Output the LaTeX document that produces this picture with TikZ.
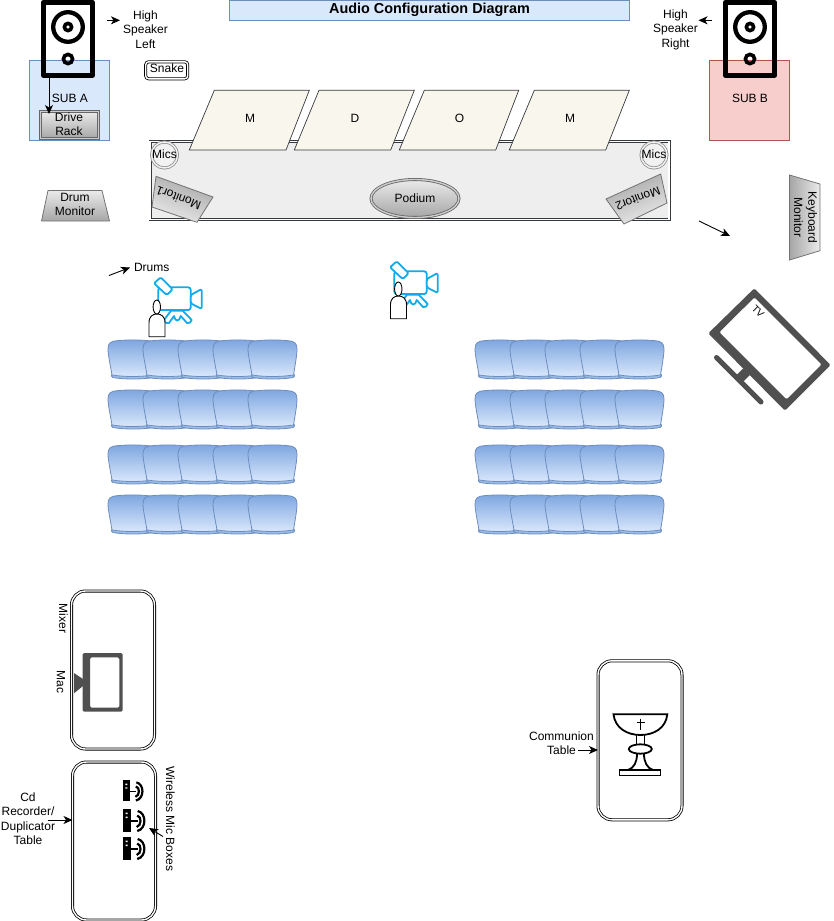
\documentclass[tikz,border=0pt]{standalone}
\usepackage{fontspec}
\setmainfont{Liberation Sans}
\usetikzlibrary{shapes.geometric,arrows.meta}
\definecolor{bluefill}{HTML}{DAE8FC}
\definecolor{bluedraw}{HTML}{6C8EBF}
\definecolor{redfill}{HTML}{F8CECC}
\definecolor{reddraw}{HTML}{B85450}
\definecolor{stagefill}{HTML}{EEEEEE}
\definecolor{stagedraw}{HTML}{36393D}
\definecolor{panelfill}{HTML}{F9F7ED}
\definecolor{cam}{HTML}{10ABEB}
\definecolor{icon}{HTML}{505050}
\definecolor{seatA}{HTML}{7EA6E0}
\tikzset{
  x=1pt,y=-1pt,
  every node/.style={font=\fontsize{12}{14.4}\selectfont,inner sep=0pt,outer sep=0pt,align=center},
  plain/.style={line width=.9pt},
  conn/.style={draw=black,line width=.9pt,-{Stealth[length=9pt,width=8pt,inset=2.5pt]}},
  bluebox/.style={draw=bluedraw,fill=bluefill,line width=.9pt,rectangle},
  redbox/.style={draw=reddraw,fill=redfill,line width=.9pt,rectangle},
  doubleline/.style={draw=black,double=white,line width=.8pt,double distance=1.4pt},
  table/.style={doubleline,rectangle,rounded corners=14pt,fill=white},
  panel/.style={draw=stagedraw,fill=panelfill,line width=.7pt},
  trap/.style={draw=black!55,line width=.8pt},
  camline/.style={draw=cam,line width=1.8pt,line join=round,fill=white},
  speakerline/.style={draw=black,line width=4.5pt,line join=round},
  seatback/.style={draw=bluedraw,line width=.8pt,top color=seatA,bottom color=bluefill},
  seatlip/.style={draw=bluedraw,line width=.8pt,fill=seatA!70!bluefill},
}
\begin{document}
\begin{tikzpicture}
\useasboundingbox (0,0) rectangle (833,921);
% title
\node[bluebox,minimum width=400pt,minimum height=20.5pt] (title) at (429.5,10.2) {\fontsize{14.4}{16}\selectfont\bfseries\raisebox{-.5pt}{Audio Configuration Diagram}};
% subs
\node[bluebox,minimum width=80pt,minimum height=80pt] (subA) at (69.7,100.3) {};
\node (subAt) at (70,98) {SUB A};
\node[redbox,minimum width=80pt,minimum height=80pt] (subB) at (749.5,100.3) {};
\node (subBt) at (750,98) {SUB B};
% speakers
\foreach \sx/\nm in {68/spkL,750/spkR}{
  \begin{scope}[shift={(\sx,0)}]
    \draw[speakerline] (-24.7,2.3) rectangle (24.7,75.3);
    \draw[draw=black,line width=4.3pt] (0,27) circle (14.8);
    \draw[draw=black,line width=3.6pt] (0,27) circle (3.6);
    \draw[draw=black,line width=3.6pt] (0,59) circle (4.6);
  \end{scope}
}
\coordinate (spkLout) at (49,78);
% stage
\node[draw=stagedraw,fill=stagefill,double=white,line width=.8pt,double distance=1.4pt,rectangle,minimum width=519pt,minimum height=78pt] (stage) at (409.5,180.5) {};
\path[panel] (189.3,150) -- (214.3,90.3) -- (309.3,90.3) -- (286,150) -- cycle;
\node (p1) at (250,118.5) {M};
\path[panel] (294.3,150) -- (319,90.3) -- (414.3,90.3) -- (390.7,150) -- cycle;
\node (p2) at (355,118.5) {D};
\path[panel] (399.3,150) -- (424.3,90.3) -- (518.7,90.3) -- (495.7,150) -- cycle;
\node (p3) at (459.5,118.5) {O};
\path[panel] (509.3,150) -- (534.3,90.3) -- (629.3,90.3) -- (605.7,150) -- cycle;
\node (p4) at (570,118.5) {M};
\node[circle,draw=black!45,double=white!95!black,fill=white!95!black,line width=.8pt,double distance=1.4pt,minimum size=26pt] (micL) at (164.5,155) {};
\node (micLt) at (164.5,154) {Mics};
\node[circle,draw=black!45,double=white!95!black,fill=white!95!black,line width=.8pt,double distance=1.4pt,minimum size=26pt] (micR) at (654,155) {};
\node (micRt) at (654,154) {Mics};
% monitors
\shade[trap,top color=white!92!black,bottom color=black!35,shading angle=159] (156,176.3) -- (213,197) -- (197,222.3) -- (152,207) -- cycle;
\node[rotate=159] (mon1) at (178.5,198) {Monitor1};
\shade[trap,top color=white!92!black,bottom color=black!35,shading angle=201] (660.7,174) -- (667,203) -- (624,224) -- (606,199) -- cycle;
\node[rotate=201] (mon2) at (638,199) {Monitor2};
\node[ellipse,draw=black!60,double=white!80!black,line width=.8pt,double distance=1.4pt,top color=white!92!black,bottom color=black!35,minimum width=88pt,minimum height=38pt] (podium) at (415,198.5) {};
\node (podiumt) at (415,198.5) {Podium};
% drive rack
\node[draw=black!60,double=white!80!black,line width=.8pt,double distance=1.4pt,top color=white!92!black,bottom color=black!35,rectangle,minimum width=58pt,minimum height=27pt] (rack) at (69.5,125) {};
\node (rackt) at (69,124.5) {Drive\\Rack};
\draw[conn] (spkLout) -- (49,114);
% snake
\node[doubleline,rectangle,rounded corners=3pt,minimum width=42pt,minimum height=17pt] (snake) at (166.7,70.3) {};
\node (snaket) at (167,68.5) {Snake};
% drum monitor
\shade[trap,top color=white!92!black,bottom color=black!35] (48,190.5) -- (102,190.5) -- (109.5,221) -- (41.5,221) -- cycle;
\node (drum) at (75,204.5) {Drum\\Monitor};
% keyboard monitor
\shade[trap,top color=white!92!black,bottom color=black!35,shading angle=-90] (789.5,175) -- (820,184) -- (820,250.7) -- (789.5,260) -- cycle;
\node[rotate=-90] (kbd) at (805.5,217.5) {Keyboard\\Monitor};
\coordinate (kbdA) at (699,221);
\coordinate (kbdB) at (730,236);
\draw[conn] (kbdA) -- (kbdB);
% speaker labels
\node (hsl) at (145.5,29.5) {High\\Speaker\\Left};
\node (hsr) at (675.5,29.5) {High\\Speaker\\Right};
\coordinate (hslA) at (107,20.3);
\draw[conn] (hslA) -- (120,20.3);
\coordinate (hsrA) at (711.5,20.3);
\draw[conn] (hsrA) -- (698.5,20.3);
% drums
\node[anchor=west] (drums) at (134,267) {Drums};
\coordinate (drumA) at (109,275.5);
\draw[conn] (drumA) -- (130,267.5);
% cameras
\foreach \dx/\dy/\px/\py in {0/0/0/0,236/-16/241.5/-18}{
  \begin{scope}[shift={(\dx,\dy)}]
    \path[camline] (171,310.7) -- (164,320) .. controls (165,323.5) and (168,323.8) .. (169,323) -- (174,316) .. controls (175,322) and (179.5,322) .. (180.7,316) -- (187,323) .. controls (189,323.5) and (191.5,322.5) .. (191.7,320) -- (182.7,310.7) -- cycle;
    \path[camline,rounded corners=2.5pt] (158.3,287.3) rectangle (190.7,310);
    \path[camline,rounded corners=1.5pt] (190.7,295) -- (201.7,289) -- (201.7,309) -- (190.7,303.3) -- cycle;
    \path[camline,rounded corners=1.5pt] (154,283.3) -- (160.7,277.3) -- (172.7,289.3) -- (166.7,295) -- cycle;
  \end{scope}
  \begin{scope}[shift={(\px,\py)}]
    \draw[plain,fill=white] (149,336.7) -- (149,323) .. controls (149,316) and (153,314) .. (157,314) .. controls (161,314) and (165,316) .. (165,323) -- (165,336.7) -- cycle;
    \draw[plain,fill=white] (156.8,307) ellipse (3.7 and 7);
  \end{scope}
}
% seats
\foreach \sx in {108,475}{
 \foreach \sy in {340,390,445,495}{
  \foreach \i in {0,...,4}{
   \begin{scope}[shift={({\sx+35*\i},\sy)}]
     \path[seatlip] (4,34) .. controls (3,35) and (3,37) .. (5,37.5) .. controls (15,39.5) and (35,39.5) .. (45,37.5) .. controls (47,37) and (47,35) .. (46,34) -- cycle;
     \shade[seatback] (0,9) .. controls (0,3) and (3,1) .. (9,0.7) .. controls (20,-.3) and (30,-.3) .. (40,.7) .. controls (46,1) and (49,3) .. (49,9) .. controls (49,15) and (47,26) .. (45.5,35) .. controls (32,37) and (17,37) .. (4,35) .. controls (2.5,26) and (0,15) .. (0,9) -- cycle;
   \end{scope}
  }
 }
}
% TV
\fill[icon,even odd rule,rounded corners=1.5pt] (754.3,288.3) -- (830.7,365) -- (785,410.7) -- (708.3,333.3) -- cycle (754.5,297.3) -- (821.7,364.5) -- (786.5,399.5) -- (719.3,332.3) -- cycle;
\draw[icon,line width=5pt,line cap=round] (716.5,357.5) -- (761,402);
\fill[icon] (743.3,368.3) -- (749.9,374.9) -- (741.9,382.9) -- (735.3,376.3) -- cycle;
\node[rotate=-45] (tv) at (758,311.5) {\fontsize{10}{12}\selectfont TV};
% tables
\node[table,minimum width=83pt,minimum height=158pt] (mixer) at (113,670) {};
\node[table,minimum width=83pt,minimum height=158pt] (cdtable) at (114,841) {};
\node[table,minimum width=84pt,minimum height=159pt] (commtable) at (640,740.3) {};
\node[rotate=-90] (mixert) at (63.5,618.5) {Mixer};
\node[rotate=-90] (mact) at (61,682) {Mac};
% mac icon
\fill[icon,even odd rule,rounded corners=1.5pt] (82.7,653) rectangle (122.7,711.7) (90,657.3) rectangle (119.3,707.7);
\fill[icon] (74,673) -- (83,679) -- (83,686) -- (74,693.3) -- cycle;
% wireless
\node (cdt) at (28,818.5) {Cd\\Recorder/\\Duplicator\\Table};
\coordinate (cdA) at (47.5,820);
\draw[conn] (cdA) -- (cdA -| cdtable.west);
\foreach \wy/\ws in {790.5/.91,820/1,848/1}{
  \begin{scope}[shift={(122.7,\wy)},scale=\ws]
    \fill[black] (0,-11.5) rectangle (8.3,11.5);
    \fill[white] (3,-7.5) rectangle (5,-6) (3,-3.5) rectangle (5,-2);
    \draw[black,line width=1.6pt] (8.3,1) -- (15,1);
    \draw[black,line width=2.2pt] (14.5,-4.5) .. controls (19,-3.5) and (19,5.5) .. (14,7);
    \draw[black,line width=2.2pt] (15,-9) .. controls (24,-7) and (24,9) .. (14.5,11);
  \end{scope}
}
\node[rotate=-90] (wmb) at (170.5,819) {Wireless Mic Boxes};
\coordinate (wmbA) at (163,836.5);
\coordinate (wmbB) at (149,828);
\draw[conn] (wmbA) -- (wmbB);
% communion
\node (commt) at (561.5,743) {Communion\\Table};
\coordinate (commA) at (578,750);
\draw[conn] (commA) -- (commA -| commtable.west);
\begin{scope}[line width=1.8pt,draw=black]
  \draw (613.5,714.3) -- (667.3,714.3) .. controls (666,728) and (654,735) .. (640.5,735) .. controls (627,735) and (615,728) .. (613.5,714.3) -- cycle;
  \draw[line width=1pt] (640.7,718.5) -- (640.7,730) (636.5,722.5) -- (644.5,722.5);
  \draw (636.5,735) -- (636.5,745) (644.5,735) -- (644.5,745);
  \draw (640.3,749) ellipse (11.5 and 4.7);
  \draw (637,754) .. controls (637,762) and (634,768) .. (628,770) (644,754) .. controls (644,762) and (647,768) .. (653,770);
  \draw (619.5,770) rectangle (660.5,775.5);
\end{scope}
\end{tikzpicture}
\end{document}
